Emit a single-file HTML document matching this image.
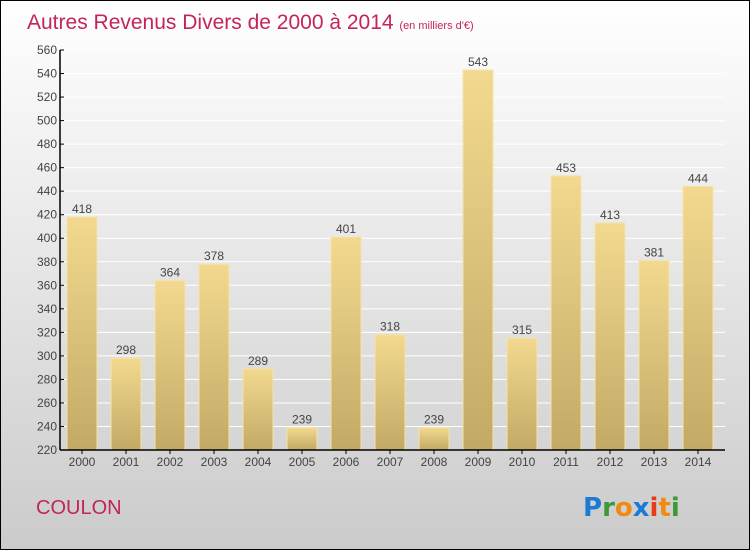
<!DOCTYPE html>
<html><head><meta charset="utf-8"><style>
html,body{margin:0;padding:0}
body{width:750px;height:550px;overflow:hidden;font-family:"Liberation Sans",sans-serif}
</style></head><body>
<svg width="750" height="550" xmlns="http://www.w3.org/2000/svg">
<defs>
<linearGradient id="bg" x1="0" y1="0" x2="0" y2="1"><stop offset="0" stop-color="#ffffff"/><stop offset="1" stop-color="#cbcbcb"/></linearGradient>
<linearGradient id="bar" x1="0" y1="0" x2="0" y2="1"><stop offset="0" stop-color="#f3d98f"/><stop offset="1" stop-color="#c2aa66"/></linearGradient>
</defs>
<rect x="0.5" y="0.5" width="749" height="549" fill="url(#bg)" stroke="#000"/>
<text x="27" y="29" font-size="21" fill="#c4245a">Autres Revenus Divers de 2000 à 2014 <tspan font-size="11">(en milliers d'€)</tspan></text>
<g id="yaxis"></g>
<g id="bars"></g>
<g id="xaxis"></g>
<text x="36" y="514" font-size="20" fill="#c4245a">COULON</text>
<g font-size="26" font-weight="bold" font-family="'DejaVu Sans',sans-serif">
<text x="583" y="516"><tspan fill="#1a7ad4">P</tspan><tspan fill="#3a9a3a">r</tspan><tspan fill="#f08a10">o</tspan><tspan fill="#1a7ad4">x</tspan><tspan fill="#e83a1a">i</tspan><tspan fill="#f08a10">t</tspan><tspan fill="#3a9a3a">i</tspan></text>
</g>
</svg>
<script>
const years=["2000","2001","2002","2003","2004","2005","2006","2007","2008","2009","2010","2011","2012","2013","2014"];
const values=[418,298,364,378,289,239,401,318,239,543,315,453,413,381,444];
const yTicks=[220,240,260,280,300,320,340,360,380,400,420,440,460,480,500,520,540,560];
const NS="http://www.w3.org/2000/svg";
const yMin=220,yMax=560,plotTop=50,plotBot=450,axX=60;
function y(v){return plotBot-(v-yMin)/(yMax-yMin)*(plotBot-plotTop);}
function x(i){return 67+i*44;}
function mk(t,a,p){const e=document.createElementNS(NS,t);for(const k in a)e.setAttribute(k,a[k]);p.appendChild(e);return e;}
const ya=document.getElementById('yaxis'),ba=document.getElementById('bars'),xa=document.getElementById('xaxis');
yTicks.forEach(v=>{
  const l=mk('line',{x1:60,x2:725,y1:y(v),y2:y(v),stroke:'#ffffff','stroke-width':1},ya);
  
  
  const tk=mk('line',{x1:axX,x2:axX+4,y1:y(v),y2:y(v),stroke:'#000'},ya);
  
  
  const t=mk('text',{x:axX-3,y:y(v)+4,'font-size':12,fill:'#444','text-anchor':'end'},ya);
  t.textContent=v;
  
  
});
values.forEach((v,i)=>{
  const r=mk('rect',{x:x(i),y:y(v),width:30,height:plotBot-y(v),fill:'url(#bar)',stroke:'#f6e3a6','stroke-width':1},ba);
  
  
  const t=mk('text',{x:x(i)+15,y:y(v)-4,'font-size':12,fill:'#444','text-anchor':'middle'},ba);
  t.textContent=v;
  
  
  const tk=mk('line',{x1:x(i)+15,x2:x(i)+15,y1:plotBot,y2:plotBot+4,stroke:'#000'},xa);
  
  
  const xl=mk('text',{x:x(i)+15,y:plotBot+16,'font-size':12,fill:'#444','text-anchor':'middle'},xa);
  xl.textContent=years[i];
  
  
});
const va=mk('line',{x1:axX,x2:axX,y1:plotTop,y2:plotBot,stroke:'#000','stroke-width':1.5},ya);


const ha=mk('line',{x1:axX,x2:725,y1:plotBot,y2:plotBot,stroke:'#000','stroke-width':1.5},xa);


</script>
</body></html>
